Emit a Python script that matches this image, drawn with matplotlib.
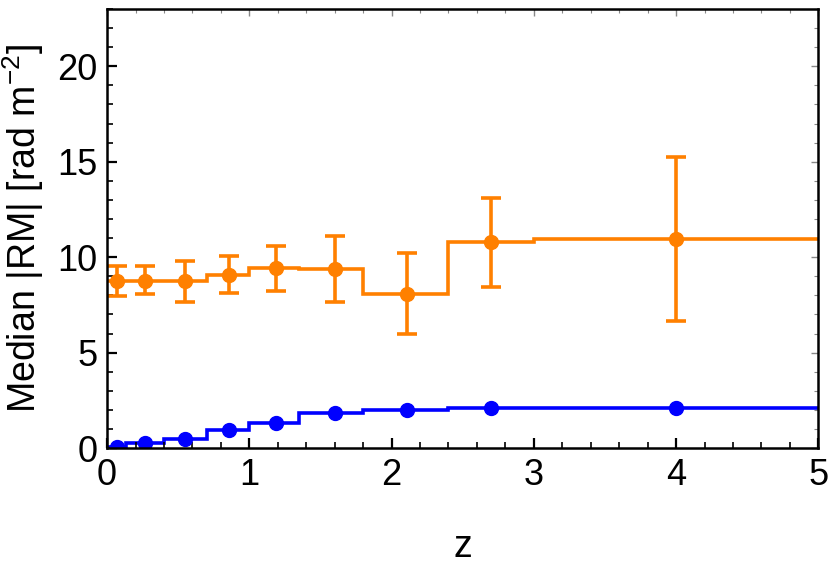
import numpy as np
import matplotlib.pyplot as plt
from matplotlib.ticker import MultipleLocator

plt.rcParams['font.family'] = ['Liberation Sans', 'DejaVu Sans']
plt.rcParams['mathtext.fontset'] = 'custom'
plt.rcParams['mathtext.rm'] = 'Liberation Sans'

# bin edges in redshift
z_edges = [0, 0.13, 0.4, 0.7, 1.0, 1.35, 1.8, 2.4, 3.0, 5.0]
# point positions inside each bin
z_points = [0.07, 0.27, 0.55, 0.86, 1.19, 1.60, 2.11, 2.70, 4.0]

# orange series (with error bars)
rm_orange = [8.77, 8.77, 8.74, 9.05, 9.42, 9.36, 8.06, 10.80, 10.97]
orange_hi = [9.55, 9.52, 9.82, 10.08, 10.60, 11.12, 10.20, 13.09, 15.27]
orange_lo = [7.95, 8.07, 7.64, 8.13, 8.21, 7.64, 5.99, 8.43, 6.63]

# blue series
rm_blue = [0.05, 0.24, 0.47, 0.94, 1.32, 1.81, 1.98, 2.08, 2.12]

orange = '#ff8000'
blue = '#0000ff'

fig = plt.figure(figsize=(8.3, 5.65), dpi=100)
ax = fig.add_axes([0.129, 0.207, 0.857, 0.777])

# step lines (no vertical edges down to the baseline)
ax.stairs(rm_orange, z_edges, baseline=None, color=orange, lw=2.6)
ax.stairs(rm_blue, z_edges, baseline=None, color=blue, lw=2.6)

# orange points with error bars
yerr = [np.array(rm_orange) - np.array(orange_lo),
        np.array(orange_hi) - np.array(rm_orange)]
ax.errorbar(z_points, rm_orange, yerr=yerr, fmt='o', color=orange,
            ms=10, elinewidth=2.6, capsize=7, capthick=2.6)

# blue points
ax.plot(z_points, rm_blue, 'o', color=blue, ms=10)

ax.set_xlim(0, 5)
ax.set_ylim(0, 23)

ax.xaxis.set_major_locator(MultipleLocator(1))
ax.xaxis.set_minor_locator(MultipleLocator(0.2))
ax.yaxis.set_major_locator(MultipleLocator(5))
ax.yaxis.set_minor_locator(MultipleLocator(1))

ax.tick_params(which='both', direction='in', labelsize=26, pad=7)
ax.tick_params(which='major', length=7, width=1.6)
ax.tick_params(which='minor', length=4, width=1.2)
for s in ax.spines.values():
    s.set_linewidth(1.8)
    s.set_zorder(5)

# lighter, shorter ticks on top and right (frame style)
top = ax.secondary_xaxis('top')
right = ax.secondary_yaxis('right')
for sec, axis in ((top, top.xaxis), (right, right.yaxis)):
    axis.set_major_locator(MultipleLocator(1 if sec is top else 5))
    axis.set_minor_locator(MultipleLocator(0.2 if sec is top else 1))
    sec.tick_params(which='both', direction='in', colors='#888888', labelsize=0,
                    labeltop=False, labelright=False)
    sec.tick_params(which='major', length=5, width=1.0)
    sec.tick_params(which='minor', length=3, width=0.8)
    for s in sec.spines.values():
        s.set_visible(False)

ax.set_xlabel('z', fontsize=27, labelpad=26)
ax.set_ylabel(r'Median |RM| [rad m$^{-2}$]', fontsize=27, labelpad=8)

fig.savefig('out.png', dpi=100)
